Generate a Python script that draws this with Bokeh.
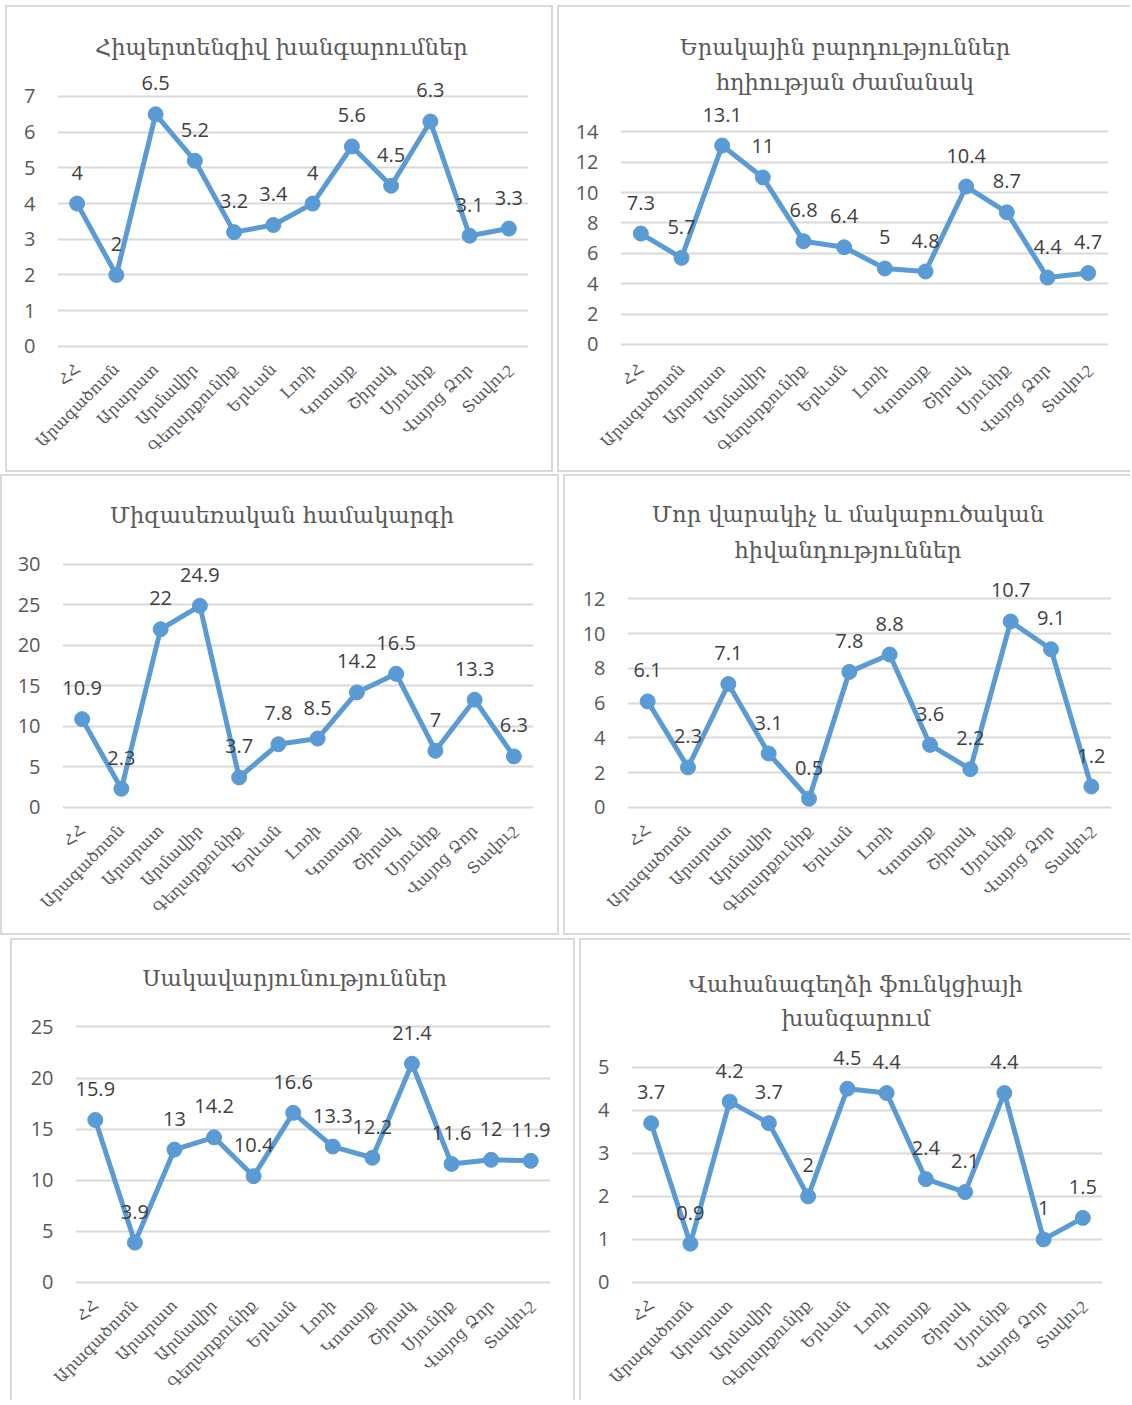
import math
from bokeh.plotting import figure
from bokeh.layouts import row, column, Spacer
from bokeh.models import ColumnDataSource, LabelSet, Label, FixedTicker, Range1d, FactorRange
from bokeh.core.properties import value
from bokeh.embed import file_html
from bokeh.resources import INLINE

# ---------------- data ----------------
regions = ["ՀՀ", "Արագածոտն", "Արարատ", "Արմավիր", "Գեղարքունիք", "Երևան",
           "Լոռի", "Կոտայք", "Շիրակ", "Սյունիք", "Վայոց Ձոր", "Տավուշ"]

title_hypertensive = ["Հիպերտենզիվ խանգարումներ"]
title_venous = ["Երակային բարդություններ", "հղիության ժամանակ"]
title_urogenital = ["Միզասեռական համակարգի"]
title_infectious = ["Մոր վարակիչ և մակաբուծական", "հիվանդություններ"]
title_anemia = ["Սակավարյունություններ"]
title_thyroid = ["Վահանագեղձի ֆունկցիայի", "խանգարում"]

hypertensive = [4, 2, 6.5, 5.2, 3.2, 3.4, 4, 5.6, 4.5, 6.3, 3.1, 3.3]
venous = [7.3, 5.7, 13.1, 11, 6.8, 6.4, 5, 4.8, 10.4, 8.7, 4.4, 4.7]
urogenital = [10.9, 2.3, 22, 24.9, 3.7, 7.8, 8.5, 14.2, 16.5, 7, 13.3, 6.3]
infectious = [6.1, 2.3, 7.1, 3.1, 0.5, 7.8, 8.8, 3.6, 2.2, 10.7, 9.1, 1.2]
anemia = [15.9, 3.9, 13, 14.2, 10.4, 16.6, 13.3, 12.2, 21.4, 11.6, 12, 11.9]
thyroid = [3.7, 0.9, 4.2, 3.7, 2, 4.5, 4.4, 2.4, 2.1, 4.4, 1, 1.5]

y_top_ticks = [7, 14, 30, 12, 25, 5]
y_steps = [1, 2, 5, 2, 5, 1]

# ---------------- layout (page pixels) ----------------
# rows: (box_top, box_height, frame_bottom)
rows_geom = [(5, 467, 350), (474, 461, 811), (938, 462, 1288)]
# panels: (row, box_x, box_w, borders(l,t,r,b), grid_x0, grid_x1, top_tick_y, zero_y, title_centers)
panels = [
    (0, 5, 548, (2, 2, 2, 2), 57, 524, 95, 342, [46]),
    (0, 557, 573, (2, 2, 0, 2), 620, 1106, 130, 340, [46, 81]),
    (1, 0, 559, (2, 2, 2, 2), 62, 529, 563, 803, [514]),
    (1, 563, 567, (2, 2, 0, 2), 627, 1109, 597, 803, [513, 549]),
    (2, 10, 565, (2, 2, 2, 0), 75, 546, 1026, 1280, [977]),
    (2, 579, 551, (2, 2, 0, 0), 631, 1100, 1066, 1280, [983, 1017]),
]

BLUE = "#5b9bd5"
GRID = "#d9d9d9"
NUM_FONT = "Open Sans"
ARM_FONT = "DejaVu Serif"


def make_panel(title_lines, values, ytop, ystep, spec):
    ri, bx, bw, (bl, bt, br, bb), gx0, gx1, tpy, zpy, tys = spec
    by, bh, fby = rows_geom[ri]
    cw, ch = bw - bl - br, bh - bt - bb
    cx0, cy0 = bx + bl, by + bt
    mb_left = gx0 - cx0
    mb_right = cw - (gx1 - cx0)
    mb_top = 5
    fty = cy0 + mb_top
    mb_bottom = ch - (fby - cy0)
    ppu = (zpy - tpy) / ytop
    y_start = -(fby - zpy) / ppu
    y_end = (zpy - fty) / ppu

    css = {}
    for side, wdt in zip(("left", "top", "right", "bottom"), (bl, bt, br, bb)):
        css[f"border-{side}"] = f"{wdt}px solid {GRID}" if wdt else "none"

    p = figure(x_range=FactorRange(*regions, range_padding=0),
               y_range=Range1d(y_start, y_end),
               width=bw, height=bh, output_backend="svg", toolbar_location=None,
               min_border_left=mb_left, min_border_right=mb_right,
               min_border_top=mb_top, min_border_bottom=mb_bottom,
               background_fill_color="white", border_fill_color="white",
               outline_line_color=None, styles=css)
    p.title.visible = False

    # titles, centred on the panel
    px_per_cat = (gx1 - gx0) / len(regions)
    title_x = len(regions) / 2 + ((bx + bw / 2) - (gx0 + gx1) / 2) / px_per_cat
    for line, ty in zip(title_lines, tys):
        p.add_layout(Label(x=title_x, y=(zpy - ty) / ppu, text=line,
                           text_align="center", text_baseline="middle",
                           text_font=ARM_FONT, text_font_size="22.5px",
                           text_color="#595959"))

    src = ColumnDataSource(dict(x=regions, y=values, lbl=[f"{v:g}" for v in values]))
    p.line("x", "y", source=src, line_color=BLUE, line_width=5, line_join="round")
    p.scatter("x", "y", source=src, size=15, fill_color=BLUE, line_color=BLUE)
    labels = LabelSet(x="x", y="y", text="lbl", source=src, y_offset=31,
                      text_align="center", text_baseline="middle",
                      text_font=value(NUM_FONT), text_font_size=value("20px"),
                      text_color=value("#404040"))
    p.add_layout(labels)

    ticks = [ystep * i for i in range(int(ytop / ystep) + 1)]
    p.yaxis.ticker = FixedTicker(ticks=ticks)
    p.ygrid.ticker = FixedTicker(ticks=ticks)
    p.ygrid.grid_line_color = GRID
    p.ygrid.grid_line_width = 2
    p.xgrid.grid_line_color = None
    for ax in (p.xaxis[0], p.yaxis[0]):
        ax.axis_line_color = None
        ax.major_tick_line_color = None
        ax.minor_tick_line_color = None
        ax.major_tick_out = 0
        ax.major_tick_in = 0
    p.yaxis.major_label_text_font = NUM_FONT
    p.yaxis.major_label_text_font_size = "20px"
    p.yaxis.major_label_text_color = "#595959"
    p.yaxis.major_label_standoff = 22
    p.xaxis.major_label_orientation = math.pi / 4
    p.xaxis.major_label_text_font = ARM_FONT
    p.xaxis.major_label_text_font_size = "16px"
    p.xaxis.major_label_text_color = "#595959"
    p.xaxis.major_label_standoff = 12
    return p


series = [hypertensive, venous, urogenital, infectious, anemia, thyroid]
titles = [title_hypertensive, title_venous, title_urogenital, title_infectious,
          title_anemia, title_thyroid]
figs = [make_panel(titles[i], series[i], y_top_ticks[i], y_steps[i], panels[i])
        for i in range(6)]


def make_row(i):
    a, b = panels[2 * i], panels[2 * i + 1]
    kids = []
    if a[1] > 0:
        kids.append(Spacer(width=a[1], height=1))
    kids.append(figs[2 * i])
    kids.append(Spacer(width=b[1] - (a[1] + a[2]), height=1))
    kids.append(figs[2 * i + 1])
    return row(*kids)


items = []
prev_bottom = 0
for i, (by, bh, _) in enumerate(rows_geom):
    if by - prev_bottom > 0:
        items.append(Spacer(height=by - prev_bottom, width=1))
    items.append(make_row(i))
    prev_bottom = by + bh

layout = column(*items)
open("out.html", "w").write(file_html(layout, INLINE))
